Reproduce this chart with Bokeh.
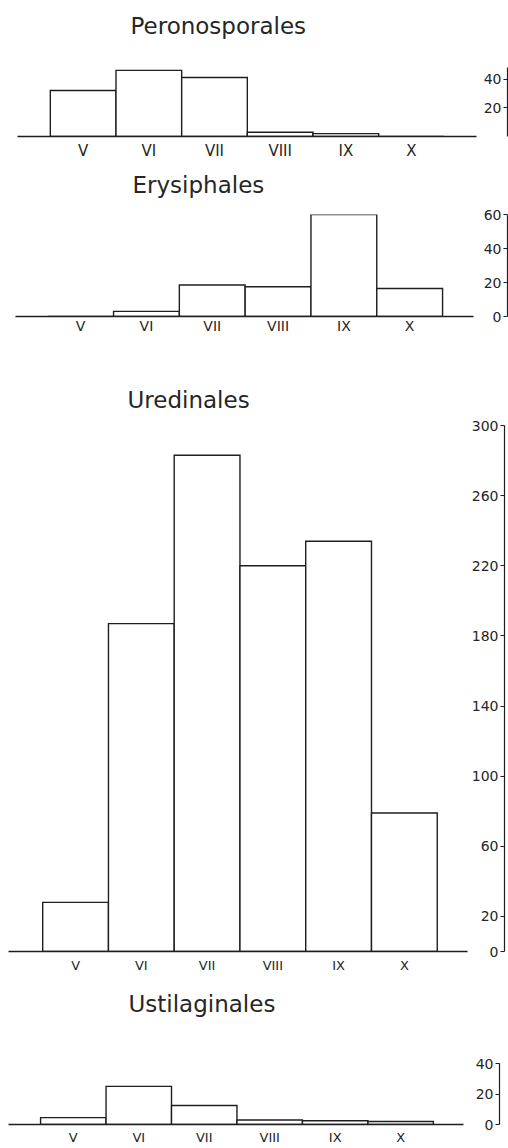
from bokeh.plotting import figure
from bokeh.layouts import column, row
from bokeh.models import Range1d, FixedTicker, ColumnDataSource, LinearAxis
from bokeh.embed import file_html
from bokeh.resources import INLINE

# ---- data ----
months = ["V", "VI", "VII", "VIII", "IX", "X"]
peronosporales = [32, 46, 41, 3, 2, 0]
erysiphales = [0, 3, 18.5, 17.5, 60, 16.5]
uredinales = [28, 187, 283, 220, 234, 79]
ustilaginales = [4.5, 25, 12.5, 3, 2.5, 2]

titles = ["Peronosporales", "Erysiphales", "Uredinales", "Ustilaginales"]
y_ticks = [[20, 40], [0, 20, 40, 60], [0, 20, 60, 100, 140, 180, 220, 260, 300], [0, 20, 40]]
y_max = [48, 60, 300, 40]
series = [peronosporales, erysiphales, uredinales, ustilaginales]

# ---- layout / style per panel ----
cfgs = [
    dict(h=162, top=67, bottom=23, bar_w=477, bl=17, pad_l=0.50, pad_r=0.49, axis_w=31, al=30,
         toff=113, gap=27, lsize="15px", lstand=5),
    dict(h=174, top=52, bottom=18, bar_w=474, bl=15, pad_l=0.49, pad_r=0.47, axis_w=34, al=33,
         toff=117, gap=15, lsize="14px", lstand=1),
    dict(h=639, top=89, bottom=23, bar_w=468, bl=8, pad_l=0.52, pad_r=0.46, axis_w=40, al=35,
         toff=119, gap=11, lsize="13px", lstand=6),
    dict(h=172, top=88, bottom=21, bar_w=464, bl=8, pad_l=0.49, pad_r=0.46, axis_w=44, al=35,
         toff=120, gap=45, lsize="13px", lstand=5),
]

FONT = "DejaVu Sans"
INK = "#1e1e1e"
TXT = "#262626"


def make_panel(values, title, ticks, ymax, c):
    n = len(months)
    yr = Range1d(0, ymax)
    src = ColumnDataSource(dict(
        left=[i - 0.5 for i in range(n)],
        right=[i + 0.5 for i in range(n)],
        bottom=[0] * n,
        top=values,
    ))
    p = figure(width=c["bar_w"], height=c["h"],
               x_range=Range1d(-0.5 - c["pad_l"], n - 0.5 + c["pad_r"]), y_range=yr,
               toolbar_location=None, output_backend="svg",
               min_border_left=c["bl"], min_border_right=1,
               min_border_top=c["top"], min_border_bottom=c["bottom"],
               y_axis_location=None, title=title)
    p.quad(left="left", right="right", bottom="bottom", top="top", source=src,
           fill_color="white", line_color=INK, line_width=1.4, line_join="miter")
    p.grid.visible = False
    p.outline_line_color = None
    p.background_fill_color = "white"
    p.border_fill_color = "white"
    p.title.align = "left"
    p.title.offset = c["toff"]
    p.title.standoff = 4
    p.title.text_font = FONT
    p.title.text_font_size = "23px"
    p.title.text_font_style = "normal"
    p.title.text_color = TXT

    # invisible spacer between title and frame: one white tick, blank label
    spacer = LinearAxis(ticker=FixedTicker(ticks=[0]), axis_line_color=None,
                        major_tick_line_color="white", minor_tick_line_color=None,
                        major_tick_out=c["gap"], major_tick_in=0,
                        minor_tick_out=0, minor_tick_in=0,
                        major_label_overrides={0: ""}, major_label_standoff=0,
                        major_label_text_font_size="1px")
    p.add_layout(spacer, "above")

    ax = p.below[0]
    ax.ticker = FixedTicker(ticks=list(range(n)))
    ax.major_label_overrides = {i: m for i, m in enumerate(months)}
    ax.axis_line_color = INK
    ax.axis_line_width = 1.3
    ax.major_tick_line_color = None
    ax.major_tick_out = 0
    ax.major_tick_in = 0
    ax.minor_tick_line_color = None
    ax.minor_tick_out = 0
    ax.major_label_text_font = FONT
    ax.major_label_text_font_size = c["lsize"]
    ax.major_label_text_color = TXT
    ax.major_label_standoff = c["lstand"]

    a = figure(width=c["axis_w"], height=c["h"], x_range=Range1d(0, 1), y_range=yr,
               toolbar_location=None, output_backend="svg",
               min_border_left=c["al"], min_border_right=0,
               min_border_top=c["top"], min_border_bottom=c["bottom"],
               x_axis_location=None, y_axis_location="left")
    a.grid.visible = False
    a.outline_line_color = None
    a.background_fill_color = "white"
    a.border_fill_color = "white"
    ya = a.yaxis[0]
    ya.ticker = FixedTicker(ticks=ticks)
    ya.axis_line_color = INK
    ya.axis_line_width = 1.2
    ya.major_tick_line_color = INK
    ya.major_tick_line_width = 1.2
    ya.major_tick_out = 4
    ya.major_tick_in = 0
    ya.minor_tick_line_color = None
    ya.major_label_text_font = FONT
    ya.major_label_text_font_size = "14px"
    ya.major_label_text_color = TXT
    ya.major_label_standoff = 2
    return row(p, a)


rows = [make_panel(series[k], titles[k], y_ticks[k], y_max[k], cfgs[k]) for k in range(4)]
layout = column(*rows)

open("out.html", "w").write(file_html(layout, INLINE))
